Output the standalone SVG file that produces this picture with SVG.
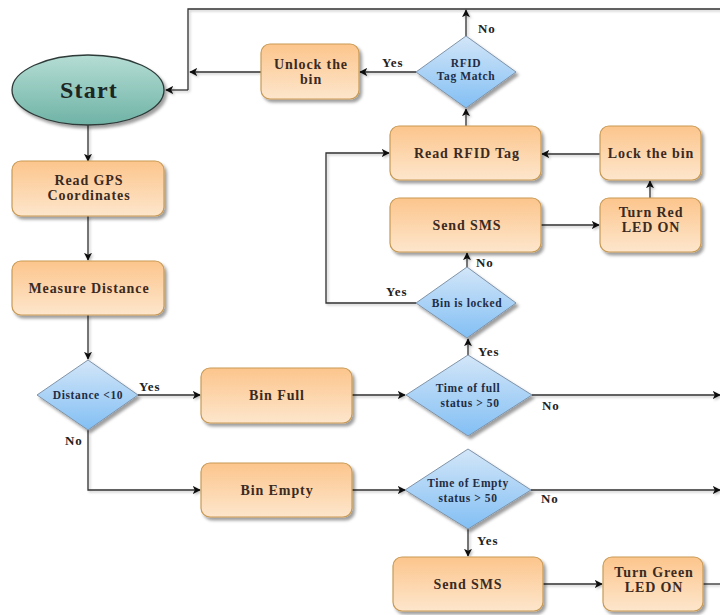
<svg xmlns="http://www.w3.org/2000/svg" width="720" height="615" viewBox="0 0 720 615">
<defs>
  <linearGradient id="gBox" x1="0" y1="0" x2="0" y2="1">
    <stop offset="0" stop-color="#fcc58c"/>
    <stop offset="1" stop-color="#fde6cc"/>
  </linearGradient>
  <linearGradient id="gDia" x1="0" y1="0" x2="0" y2="1">
    <stop offset="0" stop-color="#d3e6f8"/>
    <stop offset="1" stop-color="#82bff4"/>
  </linearGradient>
  <linearGradient id="gStart" x1="0" y1="0" x2="0" y2="1">
    <stop offset="0" stop-color="#b5ddd4"/>
    <stop offset="1" stop-color="#6fb3a6"/>
  </linearGradient>
  <filter id="sh" x="-20%" y="-20%" width="150%" height="150%">
    <feDropShadow dx="2.5" dy="3" stdDeviation="1.6" flood-color="#000" flood-opacity="0.38"/>
  </filter>
  <filter id="lsh" filterUnits="userSpaceOnUse" x="0" y="0" width="720" height="615">
    <feDropShadow dx="1.5" dy="1.5" stdDeviation="0.8" flood-color="#000" flood-opacity="0.25"/>
  </filter>
  <marker id="arr" viewBox="0 0 10 10" refX="9" refY="5" markerWidth="8" markerHeight="8" markerUnits="userSpaceOnUse" orient="auto">
    <path d="M0,0 L10,5 L0,10 L2.5,5 Z" fill="#111"/>
  </marker>
  <style>
    .box { fill: url(#gBox); stroke: #c99a55; stroke-width: 1.2; filter: url(#sh); }
    .dia { fill: url(#gDia); stroke: #7f93a8; stroke-width: 1; filter: url(#sh); }
    .st { fill: url(#gStart); stroke: #2e3a38; stroke-width: 1.3; filter: url(#sh); }
    .t { font-family: "Liberation Serif", "DejaVu Serif", serif; font-weight: bold; font-size: 14px; letter-spacing: 0.9px; fill: #3b2a22; text-anchor: middle; }
    .dt { font-family: "Liberation Serif", "DejaVu Serif", serif; font-weight: bold; font-size: 11.5px; letter-spacing: 0.6px; fill: #1f2d45; text-anchor: middle; }
    .lb { font-family: "Liberation Serif", "DejaVu Serif", serif; font-weight: bold; font-size: 13px; letter-spacing: 0.9px; fill: #222; }
    .c { fill: none; stroke: #333; stroke-width: 1.3; }
    .ca { fill: none; stroke: #333; stroke-width: 1.3; marker-end: url(#arr); }
  </style>
</defs>
<rect width="720" height="615" fill="#fff"/>

<g id="connectors" filter="url(#lsh)">
  <path class="c" d="M720,9 L188,9 L188,90"/>
  <path class="ca" d="M188,90 L166,90"/>
  <path class="ca" d="M261,72 L190,72"/>
  <path class="ca" d="M416,72 L360,72"/>
  <path class="ca" d="M466,36 L466,10"/>
  <path class="ca" d="M466,126 L466,109"/>
  <path class="ca" d="M600,154 L542,154"/>
  <path class="ca" d="M650,198 L650,181"/>
  <path class="ca" d="M541,225 L599,225"/>
  <path class="ca" d="M416,303 L326,303 L326,153 L389,153"/>
  <path class="ca" d="M467,267 L467,253"/>
  <path class="ca" d="M468,355 L468,339"/>
  <path class="ca" d="M532,395 L720,395"/>
  <path class="ca" d="M352,395 L405,395"/>
  <path class="ca" d="M138,395 L200,395"/>
  <path class="ca" d="M88,430 L88,490 L200,490"/>
  <path class="ca" d="M352,490 L405,490"/>
  <path class="ca" d="M531,490 L720,490"/>
  <path class="ca" d="M468,529 L468,556"/>
  <path class="ca" d="M543,584 L602,584"/>
  <path class="c" d="M703,584 L720,584"/>
  <path class="ca" d="M88,125 L88,161"/>
  <path class="ca" d="M88,216 L88,260"/>
  <path class="ca" d="M88,315 L88,359"/>
</g>

<g id="labels">
  <text class="lb" x="478" y="33">No</text>
  <text class="lb" x="382" y="67">Yes</text>
  <text class="lb" x="476" y="267">No</text>
  <text class="lb" x="386" y="296">Yes</text>
  <text class="lb" x="478" y="356">Yes</text>
  <text class="lb" x="542" y="410">No</text>
  <text class="lb" x="139" y="391">Yes</text>
  <text class="lb" x="65" y="445">No</text>
  <text class="lb" x="541" y="503">No</text>
  <text class="lb" x="477" y="545">Yes</text>
</g>

<g id="start">
  <ellipse class="st" cx="88" cy="90" rx="76" ry="35"/>
  <text x="89" y="98" font-family="Liberation Serif, DejaVu Serif, serif" font-weight="bold" font-size="24" letter-spacing="1.2" fill="#1c2622" text-anchor="middle">Start</text>
</g>
<g id="read-gps">
  <rect class="box" x="12" y="161" width="152" height="55" rx="9"/>
  <text class="t" x="89" y="185">Read GPS</text>
  <text class="t" x="89" y="200">Coordinates</text>
</g>
<g id="measure-distance">
  <rect class="box" x="12" y="261" width="152" height="54" rx="9"/>
  <text class="t" x="89" y="293">Measure Distance</text>
</g>
<g id="distance-decision">
  <polygon class="dia" points="88,360 138,395 88,430 37,395"/>
  <text class="dt" x="88" y="399">Distance &lt;10</text>
</g>
<g id="bin-full">
  <rect class="box" x="201" y="368" width="151" height="55" rx="9"/>
  <text class="t" x="277" y="400">Bin Full</text>
</g>
<g id="bin-empty">
  <rect class="box" x="201" y="463" width="151" height="54" rx="9"/>
  <text class="t" x="277" y="495">Bin Empty</text>
</g>
<g id="time-full">
  <polygon class="dia" points="468,355 532,395 468,436 406,395"/>
  <text class="dt" x="468" y="392">Time of full</text>
  <text class="dt" x="470" y="407">status &gt; 50</text>
</g>
<g id="time-empty">
  <polygon class="dia" points="468,449 531,490 468,529 405,490"/>
  <text class="dt" x="468" y="487">Time of Empty</text>
  <text class="dt" x="468" y="502">status &gt; 50</text>
</g>
<g id="bin-locked">
  <polygon class="dia" points="467,267 516,303 467,338 416,303"/>
  <text class="dt" x="467" y="307">Bin is locked</text>
</g>
<g id="send-sms-top">
  <rect class="box" x="390" y="198" width="151" height="54" rx="9"/>
  <text class="t" x="467" y="230">Send SMS</text>
</g>
<g id="turn-red">
  <rect class="box" x="600" y="198" width="101" height="54" rx="9"/>
  <text class="t" x="651" y="217">Turn Red</text>
  <text class="t" x="651" y="232">LED ON</text>
</g>
<g id="lock-bin">
  <rect class="box" x="600" y="126" width="101" height="54" rx="9"/>
  <text class="t" x="651" y="158">Lock the bin</text>
</g>
<g id="read-rfid">
  <rect class="box" x="390" y="126" width="151" height="54" rx="9"/>
  <text class="t" x="467" y="158">Read RFID Tag</text>
</g>
<g id="rfid-match">
  <polygon class="dia" points="466,36 516,72 466,108 416,72"/>
  <text class="dt" x="466" y="67">RFID</text>
  <text class="dt" x="466" y="80">Tag Match</text>
</g>
<g id="unlock-bin">
  <rect class="box" x="261" y="44" width="98" height="55" rx="9"/>
  <text class="t" x="311" y="69">Unlock the</text>
  <text class="t" x="311" y="84">bin</text>
</g>
<g id="send-sms-bottom">
  <rect class="box" x="393" y="557" width="150" height="54" rx="9"/>
  <text class="t" x="468" y="589">Send SMS</text>
</g>
<g id="turn-green">
  <rect class="box" x="603" y="557" width="100" height="54" rx="9"/>
  <text class="t" x="654" y="577">Turn Green</text>
  <text class="t" x="654" y="592">LED ON</text>
</g>
</svg>
